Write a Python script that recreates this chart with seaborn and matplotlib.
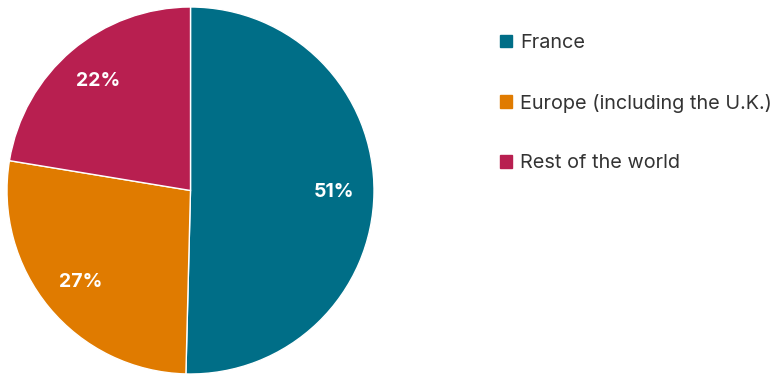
import matplotlib
matplotlib.use("Agg")
import matplotlib.pyplot as plt
import matplotlib.patches as mpatches
import seaborn as sns

labels = ["France", "Europe (including the U.K.)", "Rest of the world"]
shares = [50.4, 27.2, 22.4]
pct_labels = ["51%", "27%", "22%"]   # as printed on the chart
colors = ["#006e87", "#e07b00", "#b81f50"]

sns.set_theme(style="white")
plt.rcParams["font.family"] = ["Inter", "DejaVu Sans"]

fig = plt.figure(figsize=(7.78, 3.75), dpi=100)
ax = fig.add_axes([7 / 778, 1 / 375, 367 / 778, 367 / 375])

wedges, texts, autotexts = ax.pie(
    shares, colors=colors, startangle=90, counterclock=False,
    autopct="%d%%", pctdistance=0.78,
    wedgeprops=dict(edgecolor="white", linewidth=1),
    textprops=dict(color="white", fontsize=14, fontweight="bold"),
)
for t, s in zip(autotexts, pct_labels):
    t.set_text(s)
ax.set_xlim(-1, 1)
ax.set_ylim(-1, 1)
ax.set_aspect("equal")

handles = [mpatches.Patch(color=c, label=l) for c, l in zip(colors, labels)]
fig.legend(handles=handles, loc="upper left", bbox_to_anchor=(492 / 778, 1 - 26 / 375),
           frameon=False, fontsize=14.3, labelspacing=2.1, handlelength=0.6,
           handleheight=0.6, handletextpad=0.4, borderaxespad=0,
           labelcolor="#333333")

fig.savefig("out.png", dpi=100)
